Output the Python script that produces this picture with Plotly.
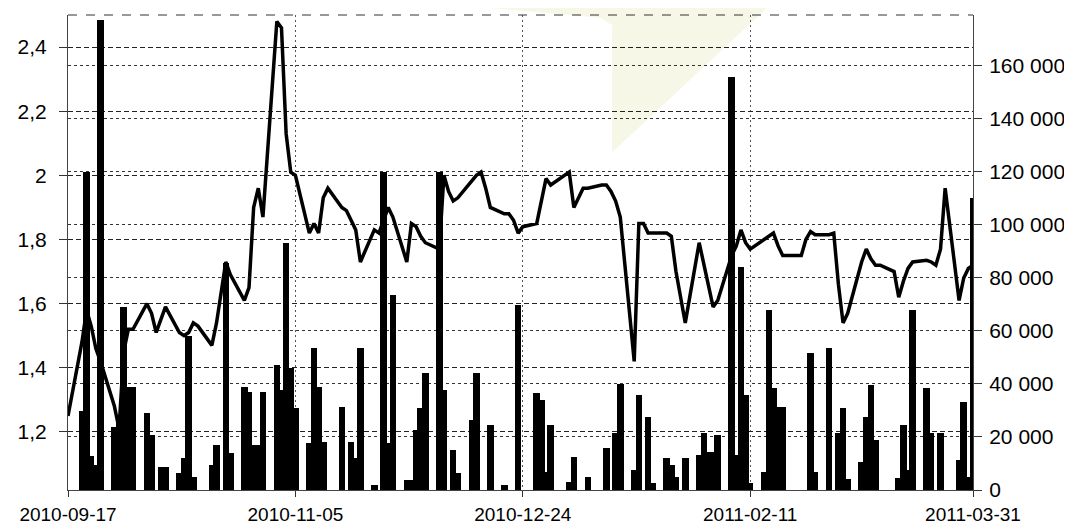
import pandas as pd
import plotly.graph_objects as go

# Trading days (weekdays) shown on the chart
dates = pd.bdate_range("2010-09-17", "2011-03-31")

# Price (left axis), one value per trading day, Mon..Fri per row
price = [
    1.25,
    1.48, 1.58, 1.53, 1.46, 1.42,
    1.28, 1.21, 1.45, 1.52, 1.52,
    1.60, 1.57, 1.51, 1.55, 1.59,
    1.51, 1.50, 1.51, 1.54, 1.53,
    1.47, 1.54, 1.64, 1.73, 1.69,
    1.61, 1.65, 1.90, 1.96, 1.87,
    2.48, 2.46, 2.13, 2.01, 2.00,
    1.82, 1.85, 1.82, 1.93, 1.96,
    1.90, 1.89, 1.86, 1.83, 1.73,
    1.83, 1.82, 1.86, 1.90, 1.87,
    1.73, 1.85, 1.84, 1.81, 1.79,
    1.77, 2.00, 1.95, 1.92, 1.93,
    1.98, 2.00, 2.01, 1.96, 1.90,
    1.88, 1.88, 1.86, 1.82, 1.84,
    1.85, 1.92, 1.99, 1.97, 1.98,
    2.01, 1.90, 1.93, 1.96, 1.96,
    1.97, 1.97, 1.95, 1.92, 1.87,
    1.42, 1.85, 1.85, 1.82, 1.82,
    1.82, 1.81, 1.70, 1.62, 1.54,
    1.79, 1.72, 1.65, 1.59, 1.61,
    1.75, 1.78, 1.83, 1.79, 1.77,
    1.80, 1.81, 1.82, 1.78, 1.75,
    1.75, 1.75, 1.80, 1.825, 1.815,
    1.815, 1.82, 1.66, 1.54, 1.57,
    1.73, 1.77, 1.74, 1.72, 1.72,
    1.70, 1.62, 1.67, 1.71, 1.73,
    1.735, 1.73, 1.72, 1.77, 1.96,
    1.61, 1.68, 1.71, 1.72,
]

# Volume (right axis), one value per trading day
volume = [
    0,
    29700, 120000, 12800, 9400, 177000,
    23800, 28000, 69000, 38800, 38800,
    29000, 20700, 0, 8700, 8700,
    6400, 12000, 58000, 5000, 0,
    9400, 17000, 0, 85600, 14000,
    38800, 37000, 17000, 17000, 37000,
    47000, 37700, 93000, 46000, 31000,
    17700, 53500, 38800, 18000, 0,
    31300, 0, 18000, 12000, 53500,
    2000, 0, 120000, 17700, 73500,
    3800, 3800, 22600, 31000, 44000,
    120000, 37700, 0, 15000, 6400,
    26400, 44000, 0, 0, 24500,
    2000, 0, 0, 69700, 0,
    36500, 34000, 6800, 24500, 0,
    3000, 12400, 0, 0, 5000,
    0, 15800, 0, 21500, 40000,
    7500, 35800, 0, 27500, 2600,
    12000, 9400, 5000, 0, 12000,
    13200, 21500, 14300, 14300, 20700,
    155700, 13200, 84000, 35800, 2600,
    6800, 67800, 38400, 31300, 31300,
    0, 0, 0, 51600, 6800,
    53500, 0, 21500, 31000, 4000,
    10500, 27500, 39600, 19000, 0,
    0, 4500, 24500, 7500, 67800,
    38400, 21500, 0, 21500, 0,
    11300, 33000, 5000, 110000,
]

x_ticks = ["2010-09-17", "2010-11-05", "2010-12-24", "2011-02-11", "2011-03-31"]
y_left_ticks = [1.2, 1.4, 1.6, 1.8, 2.0, 2.2, 2.4]
y_left_text = ["1,2", "1,4", "1,6", "1,8", "2", "2,2", "2,4"]
y_right_ticks = [0, 20000, 40000, 60000, 80000, 100000, 120000, 140000, 160000]
y_right_text = ["0", "20 000", "40 000", "60 000", "80 000", "100 000",
                "120 000", "140 000", "160 000"]

n = min(len(dates), len(price), len(volume))
x = list(dates[:n])

fig = go.Figure()
fig.add_trace(go.Bar(
    x=x, y=volume[:n], yaxis="y2",
    marker=dict(color="black", line=dict(width=0)),
    width=86400000 * 1.4,
))
fig.add_trace(go.Scatter(
    x=x, y=price[:n], yaxis="y", mode="lines",
    line=dict(color="black", width=3.5),
))

# pale watermark triangle (paper coords)
fig.add_shape(type="path",
              path="M 0.453 1.017 L 0.588 0.994 L 0.601 0.979 L 0.601 0.71 L 0.7735 1.017 Z",
              xref="paper", yref="paper", fillcolor="rgb(247,247,232)",
              line=dict(width=0), layer="below")
# dashed top frame
fig.add_shape(type="line", x0=0, x1=1, y0=1, y1=1, xref="paper", yref="paper",
              line=dict(color="#333", width=1, dash="dash"))

fig.update_layout(
    width=1064, height=521,
    margin=dict(l=60, r=99, t=7, b=39),
    paper_bgcolor="white", plot_bgcolor="rgba(0,0,0,0)",
    showlegend=False, bargap=0,
    font=dict(family="Liberation Sans, Arial, sans-serif", size=19, color="black"),
    xaxis=dict(
        type="date", range=["2010-09-17", "2011-03-31"],
        tickvals=x_ticks, ticktext=x_ticks,
        showgrid=True, gridcolor="#555", griddash="2px,3px", gridwidth=1,
        showline=True, linecolor="#444", linewidth=1,
        ticks="outside", ticklen=6, tickcolor="#333",
        ticklabelstandoff=1, automargin=False,
        zeroline=False,
    ),
    yaxis=dict(
        range=[1.019, 2.5],
        tickvals=y_left_ticks, ticktext=y_left_text,
        tickfont=dict(size=21),
        showgrid=True, gridcolor="#222", griddash="5px,3px", gridwidth=1,
        showline=True, linecolor="#444", linewidth=1,
        ticks="outside", ticklen=8, tickcolor="#333",
        ticklabelstandoff=8, automargin=False,
        zeroline=False,
    ),
    yaxis2=dict(
        overlaying="y", side="right",
        range=[0, 179000],
        tickvals=y_right_ticks, ticktext=y_right_text,
        tickfont=dict(size=21),
        showgrid=True, gridcolor="#333", griddash="3px,3px", gridwidth=1,
        showline=True, linecolor="#444", linewidth=1,
        ticks="outside", ticklen=8, tickcolor="#333",
        ticklabelstandoff=3, automargin=False,
        zeroline=False,
    ),
)

fig.write_html("out.html")
